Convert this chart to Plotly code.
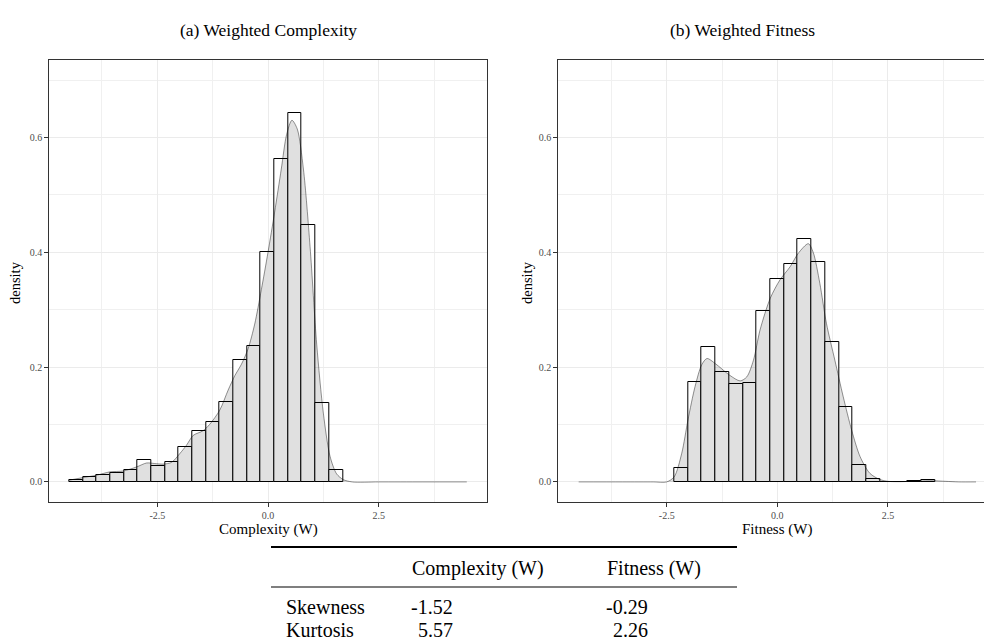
import plotly.graph_objects as go

# ---------------- data ----------------
# (a) Weighted Complexity: histogram (density scale)
cx_bin_start = -4.49
cx_bin_width = 0.309
cx_hist = [0.004, 0.0093, 0.0128, 0.0157, 0.0203, 0.0384, 0.0273, 0.0349, 0.0605,
           0.0895, 0.105, 0.140, 0.212, 0.237, 0.400, 0.563, 0.642, 0.448, 0.137, 0.0203]
# kernel density curve
cx_dens_x = [-4.49, -4.17, -3.87, -3.57, -3.27, -2.97, -2.74, -2.56, -2.37, -2.18, -1.99,
             -1.84, -1.69, -1.47, -1.32, -1.09, -0.9, -0.75, -0.6, -0.45, -0.3, -0.15,
             0.0, 0.15, 0.3, 0.42, 0.54, 0.66, 0.8, 0.95, 1.1, 1.25, 1.4, 1.55, 1.7, 1.9,
             2.5, 3.5, 4.49]
cx_dens_y = [0.003, 0.0077, 0.0117, 0.0175, 0.019, 0.026, 0.033, 0.032, 0.031, 0.034, 0.0495,
             0.064, 0.081, 0.089, 0.100, 0.125, 0.160, 0.185, 0.205, 0.232, 0.275, 0.335,
             0.400, 0.470, 0.545, 0.605, 0.630, 0.615, 0.545, 0.410, 0.240, 0.120, 0.045,
             0.014, 0.004, 0.0, 0.0, 0.0, 0.0]

# (b) Weighted Fitness
fit_bin_start = -2.33
fit_bin_width = 0.310
fit_hist = [0.0238, 0.174, 0.235, 0.192, 0.170, 0.172, 0.297, 0.353, 0.379, 0.423,
            0.383, 0.244, 0.131, 0.0297, 0.0058, 0.0, 0.0, 0.001, 0.0025]
fit_dens_x = [-4.49, -3.5, -2.8, -2.5, -2.33, -2.16, -2.02, -1.86, -1.71, -1.59, -1.40,
              -1.08, -0.84, -0.69, -0.54, -0.39, -0.16, 0.06, 0.29, 0.47, 0.70, 0.81,
              0.96, 1.11, 1.30, 1.49, 1.68, 1.87, 2.09, 2.32, 2.5, 2.8, 3.2, 3.5, 3.8,
              4.1, 4.49]
fit_dens_y = [0.0, 0.0, 0.0, 0.0, 0.009, 0.050, 0.108, 0.166, 0.204, 0.215, 0.206,
              0.186, 0.176, 0.183, 0.212, 0.265, 0.320, 0.352, 0.375, 0.398, 0.415, 0.400,
              0.346, 0.276, 0.212, 0.148, 0.090, 0.044, 0.015, 0.004, 0.001, 0.0005, 0.0015,
              0.002, 0.001, 0.0, 0.0]

# axis ticks
x_tickvals = [-2.5, 0.0, 2.5]
x_ticktext = ["-2.5", "0.0", "2.5"]
x_minor = [-3.75, -1.25, 1.25, 3.75]
y_tickvals = [0.0, 0.2, 0.4, 0.6]
y_ticktext = ["0.0", "0.2", "0.4", "0.6"]
y_minor = [0.1, 0.3, 0.5, 0.7]

panel_titles = ["(a) Weighted Complexity", "(b) Weighted Fitness"]
x_titles = ["Complexity (W)", "Fitness (W)"]
y_title = "density"

# statistics table
table_header = ["Complexity (W)", "Fitness (W)"]
stat_rows = ["Skewness", "Kurtosis"]
stat_complexity = ["-1.52", "5.57"]
stat_fitness = ["-0.29", "2.26"]

# ---------------- figure ----------------
W, H = 984, 644
FONT = "Liberation Serif"


def px(x):
    return x / W


def py(y):
    return 1 - y / H


fig = go.Figure()

panels = [
    ("x", "y", cx_bin_start, cx_bin_width, cx_hist, cx_dens_x, cx_dens_y),
    ("x2", "y2", fit_bin_start, fit_bin_width, fit_hist, fit_dens_x, fit_dens_y),
]
for xa, ya, b0, bw, hist, dx, dy in panels:
    centers = [b0 + bw * (i + 0.5) for i in range(len(hist))]
    fig.add_trace(go.Bar(
        x=centers, y=hist, width=[bw] * len(hist), xaxis=xa, yaxis=ya,
        marker=dict(color="white", line=dict(color="black", width=1)),
        showlegend=False, hoverinfo="skip"))
    fig.add_trace(go.Scatter(
        x=dx, y=dy, xaxis=xa, yaxis=ya, mode="lines",
        line=dict(color="rgba(0,0,0,0.42)", width=1, shape="spline", smoothing=0.8),
        fill="tozeroy", fillcolor="rgba(0,0,0,0.12)",
        showlegend=False, hoverinfo="skip"))

axis_common = dict(
    showgrid=True, gridcolor="#EBEBEB", gridwidth=1, zeroline=False,
    showline=True, linecolor="#333333", linewidth=1,
    ticks="outside", ticklen=4, tickcolor="#333333", tickwidth=1,
    tickfont=dict(family=FONT, size=10, color="#4D4D4D"),
)

y_top, y_bot = 60, 502
fig.update_layout(
    width=W, height=H,
    margin=dict(l=0, r=0, t=0, b=0),
    paper_bgcolor="white", plot_bgcolor="white",
    bargap=0,
    xaxis=dict(axis_common, domain=[px(49.3), px(486.7)], range=[-4.94, 4.94],
               tickmode="array", tickvals=x_tickvals, ticktext=x_ticktext, mirror=True,
               minor=dict(tickvals=x_minor, showgrid=True, gridcolor="#F0F0F0",
                          gridwidth=0.7, ticks=""),
               anchor="y"),
    yaxis=dict(axis_common, domain=[py(y_bot), py(y_top)], range=[-0.035, 0.735],
               tickmode="array", tickvals=y_tickvals, ticktext=y_ticktext, mirror=True,
               minor=dict(tickvals=y_minor, showgrid=True, gridcolor="#F0F0F0",
                          gridwidth=0.7, ticks=""),
               anchor="x"),
    xaxis2=dict(axis_common, domain=[px(558.3), 1.0], range=[-4.95, 4.67],
                tickmode="array", tickvals=x_tickvals, ticktext=x_ticktext, mirror=True,
                minor=dict(tickvals=x_minor, showgrid=True, gridcolor="#F0F0F0",
                           gridwidth=0.7, ticks=""),
                anchor="y2"),
    yaxis2=dict(axis_common, domain=[py(y_bot), py(y_top)], range=[-0.035, 0.735],
                tickmode="array", tickvals=y_tickvals, ticktext=y_ticktext, mirror=False,
                minor=dict(tickvals=y_minor, showgrid=True, gridcolor="#F0F0F0",
                           gridwidth=0.7, ticks=""),
                anchor="x2"),
)

ann = []
# panel titles
ann.append(dict(x=px(268), y=py(30), text=panel_titles[0], font=dict(family=FONT, size=17.5, color="black")))
ann.append(dict(x=px(742), y=py(30), text=panel_titles[1], font=dict(family=FONT, size=17.5, color="black")))
# axis titles
ann.append(dict(x=px(268), y=py(529), text=x_titles[0], font=dict(family=FONT, size=15, color="black")))
ann.append(dict(x=px(777), y=py(529), text=x_titles[1], font=dict(family=FONT, size=15, color="black")))
ann.append(dict(x=px(15), y=py(283), text=y_title, textangle=-90, font=dict(family=FONT, size=14.5, color="black")))
ann.append(dict(x=px(527), y=py(283), text=y_title, textangle=-90, font=dict(family=FONT, size=14.5, color="black")))

# table
TFS = 20
ann.append(dict(x=px(410), y=py(568), text=table_header[0], xanchor="left",
                font=dict(family=FONT, size=TFS, color="black")))
ann.append(dict(x=px(605), y=py(568), text=table_header[1], xanchor="left",
                font=dict(family=FONT, size=TFS, color="black")))
row_y = [607, 630]
for i, name in enumerate(stat_rows):
    ann.append(dict(x=px(284), y=py(row_y[i]), text=name, xanchor="left",
                    font=dict(family=FONT, size=TFS, color="black")))
    ann.append(dict(x=px(455), y=py(row_y[i]), text=stat_complexity[i], xanchor="right",
                    font=dict(family=FONT, size=TFS, color="black")))
    ann.append(dict(x=px(650), y=py(row_y[i]), text=stat_fitness[i], xanchor="right",
                    font=dict(family=FONT, size=TFS, color="black")))

for a in ann:
    a.setdefault("xanchor", "center")
    a["yanchor"] = "middle"
    a["xref"] = "paper"
    a["yref"] = "paper"
    a["showarrow"] = False
fig.update_layout(annotations=ann)

# table rules
fig.add_shape(type="line", xref="paper", yref="paper", x0=px(271), x1=px(737),
              y0=py(547), y1=py(547), line=dict(color="black", width=2))
fig.add_shape(type="line", xref="paper", yref="paper", x0=px(271), x1=px(737),
              y0=py(587), y1=py(587), line=dict(color="black", width=1.2))

fig.write_html("out.html")
